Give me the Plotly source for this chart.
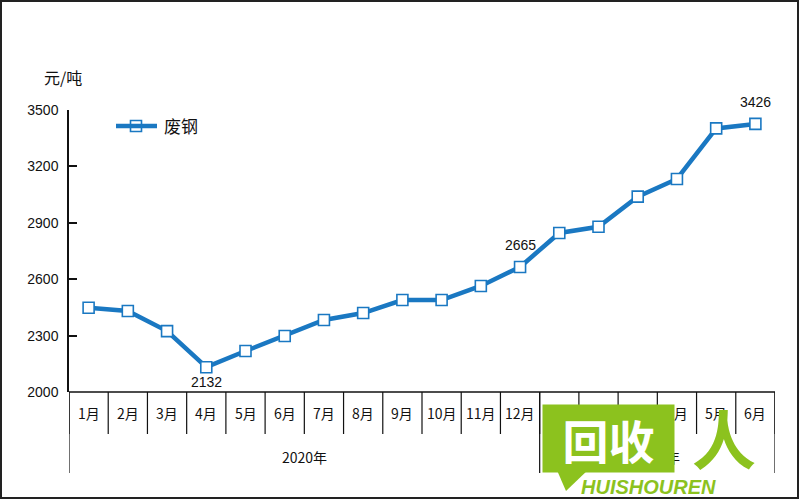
import plotly.graph_objects as go

months = ["1月", "2月", "3月", "4月", "5月", "6月", "7月", "8月", "9月", "10月", "11月", "12月",
          "1月", "2月", "3月", "4月", "5月", "6月"]
years = ["2020年", "2021年"]
year_counts = [12, 6]
values = [2448, 2431, 2324, 2132, 2218, 2298, 2383, 2420, 2489, 2489, 2564, 2665,
          2846, 2879, 3039, 3133, 3402, 3426]
labelled = {3: "bottom", 11: "top", 17: "top"}
y_ticks = [2000, 2300, 2600, 2900, 3200, 3500]
series_name = "废钢"
unit = "元/吨"

W, H = 800, 500
L, R, T, B = 69, 775, 110, 392
BLUE = "#1a78c2"
GREEN = "#8cc21e"
NUMF = "Liberation Sans"
CJK = "Noto Sans CJK SC"


def px(x):
    return (x - L) / (R - L)


def py(y):
    return (B - y) / (B - T)


xs = list(range(len(values)))
fig = go.Figure()
fig.add_trace(go.Scatter(
    x=xs, y=values, mode="lines+markers", name=series_name,
    line=dict(color=BLUE, width=4.5),
    marker=dict(symbol="square", size=11, color="white", line=dict(color=BLUE, width=1.6)),
    showlegend=False, cliponaxis=False, hoverinfo="x+y",
))

annotations = []
# data labels
for i, pos in labelled.items():
    annotations.append(dict(x=i, y=values[i], xref="x", yref="y", text=str(values[i]), showarrow=False,
                            xanchor="center", yanchor="middle",
                            yshift=-15 if pos == "bottom" else 22,
                            font=dict(family=NUMF, size=14, color="#111")))

shapes = []
# outer border
shapes.append(dict(type="rect", xref="paper", yref="paper", x0=px(1), x1=px(798), y0=py(498), y1=py(1),
                   line=dict(color="#222", width=2)))
# month separators
row1 = py(434)
row2 = py(473)
n = len(months)
for k in range(n + 1):
    shapes.append(dict(type="line", xref="x", yref="paper", x0=k - 0.5, x1=k - 0.5, y0=0, y1=row1,
                       line=dict(color="#111", width=1.2)))
# year separators
edge = -0.5
for c in year_counts:
    shapes.append(dict(type="line", xref="x", yref="paper", x0=edge, x1=edge, y0=0, y1=row2,
                       line=dict(color="#111", width=1.2)))
    edge += c
shapes.append(dict(type="line", xref="x", yref="paper", x0=edge, x1=edge, y0=0, y1=row2,
                   line=dict(color="#111", width=1.2)))
# x axis line
shapes.append(dict(type="line", xref="paper", yref="paper", x0=0, x1=1, y0=0, y1=0,
                   line=dict(color="#111", width=1.5)))

for i, m in enumerate(months):
    annotations.append(dict(x=i, xref="x", y=py(413), yref="paper", text=m, showarrow=False,
                            xanchor="center", yanchor="middle",
                            font=dict(family=CJK, size=14, color="#111")))
start = 0
for yname, c in zip(years, year_counts):
    annotations.append(dict(x=start + (c - 1) / 2, xref="x", y=py(457), yref="paper", text=yname,
                            showarrow=False, xanchor="center", yanchor="middle",
                            font=dict(family=CJK, size=14, color="#111")))
    start += c
annotations.append(dict(x=px(63), y=py(77), xref="paper", yref="paper", text=unit, showarrow=False,
                        xanchor="center", yanchor="middle",
                        font=dict(family=CJK, size=16, color="#111")))
# legend
shapes.append(dict(type="line", xref="paper", yref="paper", x0=px(116), x1=px(157), y0=py(126), y1=py(126),
                   line=dict(color=BLUE, width=4.5)))
fig.add_trace(go.Scatter(x=[px(136)], y=[py(126)], xaxis="x2", yaxis="y2", mode="markers",
                         marker=dict(symbol="square", size=11, color="white", line=dict(color=BLUE, width=1.6)),
                         showlegend=False, hoverinfo="skip", cliponaxis=False))
annotations.append(dict(x=px(162), y=py(126), xref="paper", yref="paper", text=series_name, showarrow=False,
                        xanchor="left", yanchor="middle", font=dict(family=CJK, size=17, color="#111")))

# watermark (logo approximation)
tail = f"M {px(556)} {py(468)} L {px(590)} {py(468)} L {px(566)} {py(491)} Z"
shapes.append(dict(type="path", xref="paper", yref="paper", path=tail, fillcolor=GREEN,
                   line=dict(color=GREEN, width=0)))
annotations.append(dict(x=px(608), y=py(438), xref="paper", yref="paper", text="<b>回收</b>", showarrow=False,
                        xanchor="center", yanchor="middle", width=131, height=67, borderpad=0,
                        bgcolor=GREEN, font=dict(family=CJK, size=46, color="white")))
annotations.append(dict(x=px(724), y=py(436), xref="paper", yref="paper", text="<b>人</b>", showarrow=False,
                        xanchor="center", yanchor="middle",
                        font=dict(family=CJK, size=64, color=GREEN)))
annotations.append(dict(x=px(648), y=py(487), xref="paper", yref="paper", text="<b><i>HUISHOUREN</i></b>",
                        showarrow=False, xanchor="center", yanchor="middle",
                        font=dict(family="Liberation Sans", size=20, color=GREEN)))

fig.update_layout(
    width=W, height=H,
    margin=dict(l=L, r=W - R, t=T, b=H - B, autoexpand=False),
    paper_bgcolor="white", plot_bgcolor="white",
    xaxis=dict(range=[-0.5, n - 0.5], showticklabels=False, ticks="", showgrid=False, zeroline=False,
               showline=False, fixedrange=True),
    yaxis=dict(range=[y_ticks[0], y_ticks[-1]], tickvals=y_ticks, ticks="inside", ticklen=8, tickwidth=1.5,
               tickcolor="#111", showline=True, linecolor="#111", linewidth=1.5, showgrid=False,
               zeroline=False, tickfont=dict(family=NUMF, size=14, color="#111"), ticklabelstandoff=6,
               automargin=False, fixedrange=True),
    xaxis2=dict(range=[0, 1], overlaying="x", visible=False, fixedrange=True),
    yaxis2=dict(range=[0, 1], overlaying="y", visible=False, fixedrange=True),
    shapes=shapes, annotations=annotations, showlegend=False,
)
fig.write_html("out.html", config={"displayModeBar": False},
               post_script="document.body.style.margin='0';document.body.style.overflow='hidden';")
